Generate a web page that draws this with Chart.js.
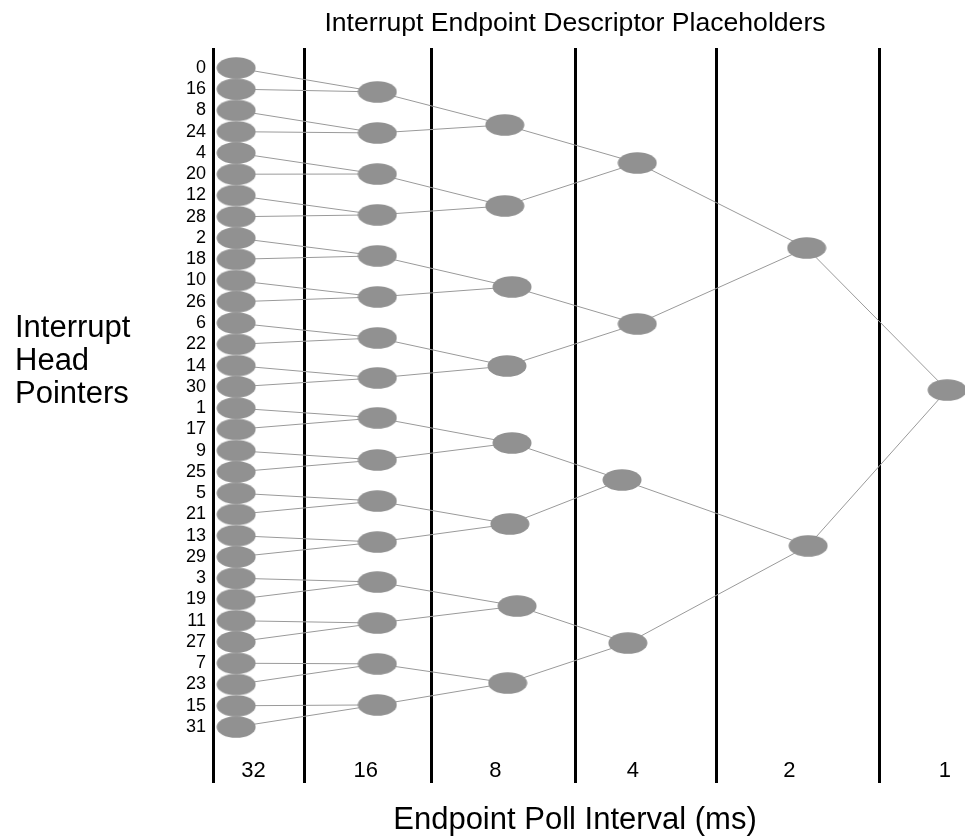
<!DOCTYPE html>
<html>
<head>
<meta charset="utf-8">
<title>Interrupt Endpoint Descriptor Placeholders</title>
<script src="https://cdn.jsdelivr.net/npm/chart.js@4.4.1/dist/chart.umd.min.js"></script>
<style>
  html, body { margin: 0; padding: 0; background: #fff; }
  #wrap { width: 965px; height: 839px; }
</style>
</head>
<body>
<div id="wrap"><canvas id="treeChart"></canvas></div>
<script>
// head pointer order down the left column
const rowLabels = [0, 16, 8, 24, 4, 20, 12, 28, 2, 18, 10, 26, 6, 22, 14, 30,
                   1, 17, 9, 25, 5, 21, 13, 29, 3, 19, 11, 27, 7, 23, 15, 31];
const intervalLabels = ['32', '16', '8', '4', '2', '1'];
const intervalCenters = [5.6, 21.1, 39.0, 58.0, 79.6, 101.1];
const columnBounds = [0, 12.6, 30.2, 50.0, 69.5, 92.0];

// placeholder nodes for each poll interval (x on the interval axis, y in rows)
const level32X = 3.2;
const level16X = 22.7;
const level16Rows = [1.13, 3.06, 4.99, 6.91, 8.84, 10.77, 12.70, 14.58,
                     16.46, 18.44, 20.37, 22.30, 24.18, 26.11, 28.03, 29.96];
const level8X = [40.3, 40.3, 41.3, 40.6, 41.3, 41.0, 42.0, 40.7];
const level8Rows = [2.68, 6.49, 10.30, 14.02, 17.64, 21.45, 25.31, 28.93];
const level4X = [58.6, 58.6, 56.5, 57.3];
const level4Rows = [4.47, 12.04, 19.38, 27.05];
const level2X = [82.0, 82.2];
const level2Rows = [8.47, 22.48];
const level1X = [101.4];
const level1Rows = [15.15];

const levels = [
  rowLabels.map((_, i) => ({ x: level32X, y: i })),
  level16Rows.map(r => ({ x: level16X, y: r })),
  level8Rows.map((r, i) => ({ x: level8X[i], y: r })),
  level4Rows.map((r, i) => ({ x: level4X[i], y: r })),
  level2Rows.map((r, i) => ({ x: level2X[i], y: r })),
  level1Rows.map((r, i) => ({ x: level1X[i], y: r }))
];

const nodePoints = levels.flat();
// each node links the two nodes of the previous interval: child, parent, child, gap
const edgePoints = [];
for (let l = 1; l < levels.length; l++) {
  levels[l].forEach((p, i) => {
    edgePoints.push(levels[l - 1][2 * i], p, levels[l - 1][2 * i + 1], { x: null, y: null });
  });
}

// grey ellipse used as point style
const ellipse = document.createElement('canvas');
ellipse.width = 40;
ellipse.height = 22;
const ec = ellipse.getContext('2d');
ec.fillStyle = '#919191';
ec.beginPath();
ec.ellipse(20, 11, 19.5, 10.8, 0, 0, Math.PI * 2);
ec.fill();

Chart.defaults.font.family = "'Liberation Sans', Arial, Helvetica, sans-serif";
Chart.defaults.color = '#000';

const boundColor = ctx => (ctx.tick && columnBounds.includes(ctx.tick.value)) ? '#000' : 'rgba(0,0,0,0)';
const rowMin = -0.94, rowMax = 32.41;

new Chart(document.getElementById('treeChart'), {
  type: 'scatter',
  data: {
    datasets: [
      {
        label: 'placeholders',
        data: nodePoints,
        pointStyle: ellipse,
        pointRadius: 20,
        clip: false
      },
      {
        label: 'links',
        data: edgePoints,
        showLine: true,
        spanGaps: false,
        borderColor: '#9a9a9a',
        borderWidth: 1,
        pointRadius: 0,
        clip: false
      }
    ]
  },
  options: {
    responsive: true,
    maintainAspectRatio: false,
    animation: false,
    events: [],
    layout: { padding: { left: 15, right: 28, top: 0, bottom: 0 } },
    plugins: {
      legend: { display: false },
      tooltip: { enabled: false },
      title: {
        display: true,
        text: 'Interrupt Endpoint Descriptor Placeholders',
        fullSize: false,
        font: { size: 26.6, weight: 'normal', lineHeight: 1.2 },
        color: '#000',
        padding: { top: 8, bottom: 8 }
      }
    },
    scales: {
      x: {
        type: 'linear',
        position: 'bottom',
        min: 0,
        max: 100,
        afterBuildTicks: s => {
          s.ticks = columnBounds.concat(intervalCenters).map(v => ({ value: v }));
        },
        afterFit: s => { s.height = 82; },
        ticks: {
          autoSkip: false,
          maxRotation: 0,
          padding: -25,
          font: { size: 22 },
          color: '#000',
          callback: v => {
            const i = intervalCenters.indexOf(v);
            return i >= 0 ? intervalLabels[i] : '';
          }
        },
        grid: {
          color: boundColor,
          lineWidth: 3,
          tickLength: 26,
          tickWidth: 3,
          tickColor: boundColor
        },
        border: { display: false },
        title: {
          display: true,
          text: 'Endpoint Poll Interval (ms)',
          font: { size: 31 },
          color: '#000',
          padding: { top: 0, bottom: 0 }
        }
      },
      y: {
        type: 'linear',
        position: 'left',
        weight: 0,
        reverse: true,
        min: rowMin,
        max: rowMax,
        afterBuildTicks: s => { s.ticks = rowLabels.map((_, i) => ({ value: i })); },
        afterFit: s => { s.width = 48; s.paddingTop = 0; s.paddingBottom = 0; },
        ticks: {
          autoSkip: false,
          padding: 7,
          font: { size: 18 },
          color: '#000',
          callback: (v, i) => String(rowLabels[i])
        },
        grid: { display: false, drawTicks: false },
        border: { display: false }
      },
      yTitle: {
        type: 'linear',
        position: 'left',
        weight: 1,
        reverse: true,
        min: rowMin,
        max: rowMax,
        afterBuildTicks: s => { s.ticks = [{ value: 13.8 }]; },
        afterFit: s => { s.width = 150; s.paddingTop = 0; s.paddingBottom = 0; },
        ticks: {
          autoSkip: false,
          crossAlign: 'far',
          font: { size: 31, lineHeight: 1.07 },
          color: '#000',
          callback: () => ['Interrupt', 'Head', 'Pointers']
        },
        grid: { display: false, drawTicks: false },
        border: { display: false }
      }
    }
  }
});
</script>
</body>
</html>
